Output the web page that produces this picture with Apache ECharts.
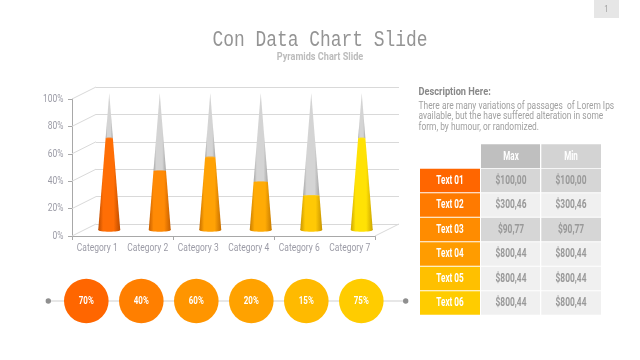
<!DOCTYPE html>
<html>
<head>
<meta charset="utf-8">
<style>
html, body { margin: 0; padding: 0; background: #fff; }
#main { width: 640px; height: 360px; }
</style>
<script src="https://cdn.jsdelivr.net/npm/echarts@6/dist/echarts.min.js"></script>
</head>
<body>
<div id="main"></div>
<script>
const categories = ['Category 1', 'Category 2', 'Category 3', 'Category 4', 'Category 6', 'Category 7'];
const coneValues = [67, 43, 53, 35, 25, 67];
const yTicks = [0, 20, 40, 60, 80, 100];
const circleValues = [70, 40, 60, 20, 15, 75];
const rowNames = ['Text 01', 'Text 02', 'Text 03', 'Text 04', 'Text 05', 'Text 06'];
const maxPrices = ['$100,00', '$300,46', '$90,77', '$800,44', '$800,44', '$800,44'];
const minPrices = ['$100,00', '$300,46', '$90,77', '$800,44', '$800,44', '$800,44'];
const tableHead = ['Max', 'Min'];
const descLines = [
    'There are many variations of passages  of Lorem Ips',
    'available, but the have suffered alteration in some',
    'form, by humour, or randomized.'
];

// cone colours: edge, body
const coneEdge = ['#bd4c00', '#c65e00', '#c66e00', '#c87c00', '#c89400', '#cca400'];
const coneBody = ['#ff6e05', '#ff8a05', '#ffa205', '#ffab05', '#ffc905', '#ffe205'];
const circleColors = ['#ff6600', '#ff7f00', '#ff9500', '#ffa200', '#ffba00', '#ffcc00'];
const rowColors = ['#ff6600', '#ff7a00', '#ff8c00', '#ff9c00', '#ffc000', '#ffcc00'];

const roboto = 'Roboto, sans-serif';
const depthX = 24, depthY = 12;

const coneGrad = (edge, body) => new echarts.graphic.LinearGradient(0, 0, 1, 0, [
    { offset: 0, color: edge },
    { offset: 0.22, color: body },
    { offset: 0.7, color: body },
    { offset: 1, color: edge }
]);

// narrow text: there is no condensed face installed, so squeeze Roboto
const squeezed = (x, y, str, size, color, align, weight, sx) => ({
    type: 'text', x: x, y: y, z: 5, scaleX: sx,
    style: {
        text: str, fill: color, fontFamily: roboto, fontSize: size,
        fontWeight: weight || 'normal', align: align || 'left', verticalAlign: 'middle'
    }
});

const renderCone = (params, api) => {
    const i = api.value(0);
    const base = api.coord([i, 0]);
    const cx = base[0] + depthX / 2;
    const by = base[1] - depthY / 2;
    const ty = api.coord([i, 100])[1] - depthY / 2;
    const vy = api.coord([i, api.value(1)])[1] - depthY / 2;
    const hw = 11;
    const w = hw * (vy - ty) / (by - ty);
    const fill = coneGrad(coneEdge[i], coneBody[i]);
    const grey = coneGrad('#a6a6a6', '#d4d4d4');
    return {
        type: 'group',
        children: [
            { type: 'polygon', shape: { points: [[cx, ty], [cx + w, vy], [cx - w, vy]] }, style: { fill: grey } },
            { type: 'polygon', shape: { points: [[cx - w, vy], [cx + w, vy], [cx + hw, by], [cx - hw, by]] }, style: { fill: fill } },
            { type: 'ellipse', shape: { cx: cx, cy: by, rx: hw, ry: 1.7 }, style: { fill: fill } },
            { type: 'ellipse', shape: { cx: cx, cy: vy, rx: w, ry: 0.8 }, style: { fill: coneBody[i], opacity: 0.8 } }
        ]
    };
};

const renderSideLine = (params, api) => {
    const y = api.coord([0, api.value(0)])[1];
    const x = params.coordSys.x;
    return {
        type: 'line',
        shape: { x1: x, y1: y, x2: x + depthX, y2: y - depthY },
        style: { stroke: '#d9d9d9', lineWidth: 1 }
    };
};

const renderFloorEdge = (params, api) => {
    const y = api.coord([0, 0])[1];
    const x = params.coordSys.x + params.coordSys.width;
    return {
        type: 'line',
        shape: { x1: x, y1: y, x2: x + depthX, y2: y - depthY },
        style: { stroke: '#d9d9d9', lineWidth: 1 }
    };
};

const renderXLabel = (params, api) => {
    const i = api.value(0);
    return squeezed(api.coord([i, 0])[0], api.coord([i, 0])[1] + 12.5, categories[i], 11, '#9b9ba6', 'center', 'normal', 0.77);
};

const renderYLabel = (params, api) => {
    const v = api.value(0);
    return squeezed(params.coordSys.x - 8.5, api.coord([0, v])[1], v + '%', 11, '#9b9ba6', 'right', 'normal', 0.77);
};

const renderCircle = (params, api) => {
    const i = api.value(0);
    const c = api.coord([i, 0.5]);
    return {
        type: 'group',
        children: [
            { type: 'circle', shape: { cx: c[0], cy: c[1], r: 22.3 }, style: { fill: circleColors[i] } },
            squeezed(c[0], c[1], api.value(1) + '%', 11, '#ffffff', 'center', 'bold', 0.72)
        ]
    };
};

const cell = (x, y, w, h, color) => ({
    type: 'rect', shape: { x: x, y: y, width: w, height: h }, style: { fill: color }
});

const graphics = [];

// page number tab
graphics.push(cell(594, 0, 25, 18, '#e6e6e6'));
graphics.push(squeezed(606.5, 10, '1', 9, '#a0a0a0', 'center', 'normal', 0.85));

// heading
graphics.push({
    type: 'text', x: 320, y: 40, scaleX: 0.815,
    style: { text: 'Con Data Chart Slide', fill: '#949494', fontFamily: '"Liberation Mono", monospace', fontSize: 22, align: 'center', verticalAlign: 'middle' }
});
graphics.push(squeezed(320, 57, 'Pyramids Chart Slide', 11, '#bcbcbc', 'center', 'bold', 0.83));

// description
graphics.push(squeezed(418.5, 92.5, 'Description Here:', 11, '#888888', 'left', 'bold', 0.84));
descLines.forEach((line, i) => {
    graphics.push(squeezed(418.5, 106 + i * 10.7, line, 10, '#a0a0a0', 'left', 'normal', 0.84));
});

// table
const rowH = 23.5, rowStep = 24.5, rowTop = 168.7;
graphics.push(cell(481, 144.3, 59, 23.7, '#bfbfbf'));
graphics.push(cell(541.3, 144.3, 59.7, 23.7, '#d3d3d3'));
graphics.push(squeezed(511, 156.5, tableHead[0], 12, '#ffffff', 'center', 'bold', 0.67));
graphics.push(squeezed(571, 156.5, tableHead[1], 12, '#ffffff', 'center', 'bold', 0.67));
rowNames.forEach((name, i) => {
    const y = rowTop + i * rowStep;
    const band = i === 0 || i === 2 ? '#d6d6d6' : '#f0f0f0';
    graphics.push(cell(420, y, 60, rowH, rowColors[i]));
    graphics.push(cell(481, y, 59, rowH, band));
    graphics.push(cell(541.3, y, 59.7, rowH, band));
    graphics.push(squeezed(450, y + 12, name, 12, '#ffffff', 'center', 'bold', 0.68));
    graphics.push(squeezed(511, y + 12, maxPrices[i], 12, '#999999', 'center', 'bold', 0.7));
    graphics.push(squeezed(571, y + 12, minPrices[i], 12, '#999999', 'center', 'bold', 0.7));
});

// timeline behind the circles
graphics.push({ type: 'line', shape: { x1: 48, y1: 301, x2: 406, y2: 301 }, style: { stroke: '#cfcfcf', lineWidth: 1 } });
graphics.push({ type: 'circle', shape: { cx: 48.3, cy: 301, r: 2.7 }, style: { fill: '#8f8f8f' } });
graphics.push({ type: 'circle', shape: { cx: 405.7, cy: 301, r: 2.7 }, style: { fill: '#8f8f8f' } });

const chart = echarts.init(document.getElementById('main'));

chart.setOption({
    animation: false,
    backgroundColor: '#ffffff',
    textStyle: { fontFamily: roboto },
    graphic: { elements: graphics },
    grid: [
        { left: 72, top: 99, width: 303, height: 137 }, // front plane with the axes
        { left: 96, top: 87, width: 303, height: 137 }, // back wall, gridlines only
        { left: 58.8, top: 275, width: 330, height: 52 } // circles
    ],
    xAxis: [
        {
            gridIndex: 0, type: 'category', data: categories,
            axisLine: { lineStyle: { color: '#a8a8a8' } },
            axisTick: { show: true, length: 4, lineStyle: { color: '#a8a8a8' } },
            axisLabel: { show: false }
        },
        { gridIndex: 1, type: 'category', data: categories, show: false },
        { gridIndex: 2, type: 'category', data: circleValues.map(String), show: false }
    ],
    yAxis: [
        {
            gridIndex: 0, type: 'value', min: 0, max: 100, interval: 20,
            axisLine: { show: true, lineStyle: { color: '#a8a8a8' } },
            axisTick: { show: true, length: 4, lineStyle: { color: '#a8a8a8' } },
            axisLabel: { show: false },
            splitLine: { show: false }
        },
        {
            gridIndex: 1, type: 'value', min: 0, max: 100, interval: 20,
            axisLine: { show: false }, axisTick: { show: false }, axisLabel: { show: false },
            splitLine: { show: true, lineStyle: { color: '#d9d9d9', width: 1 } }
        },
        { gridIndex: 2, type: 'value', min: 0, max: 1, show: false }
    ],
    series: [
        {
            type: 'custom', xAxisIndex: 0, yAxisIndex: 0, z: 1, silent: true, clip: false,
            data: yTicks.map(v => [v]),
            encode: { y: 0 },
            renderItem: renderSideLine
        },
        {
            type: 'custom', xAxisIndex: 0, yAxisIndex: 0, z: 1, silent: true, clip: false,
            data: [[0]],
            encode: { y: 0 },
            renderItem: renderFloorEdge
        },
        {
            type: 'custom', xAxisIndex: 0, yAxisIndex: 0, z: 3, clip: false,
            data: coneValues.map((v, i) => [i, v]),
            encode: { x: 0, y: 1 },
            renderItem: renderCone
        },
        {
            type: 'custom', xAxisIndex: 0, yAxisIndex: 0, z: 4, silent: true, clip: false,
            data: categories.map((c, i) => [i]),
            encode: { x: 0 },
            renderItem: renderXLabel
        },
        {
            type: 'custom', xAxisIndex: 0, yAxisIndex: 0, z: 4, silent: true, clip: false,
            data: yTicks.map(v => [v]),
            encode: { y: 0 },
            renderItem: renderYLabel
        },
        {
            type: 'custom', xAxisIndex: 2, yAxisIndex: 2, z: 3, clip: false,
            data: circleValues.map((v, i) => [i, v]),
            encode: { x: 0 },
            renderItem: renderCircle
        }
    ]
});
</script>
</body>
</html>
